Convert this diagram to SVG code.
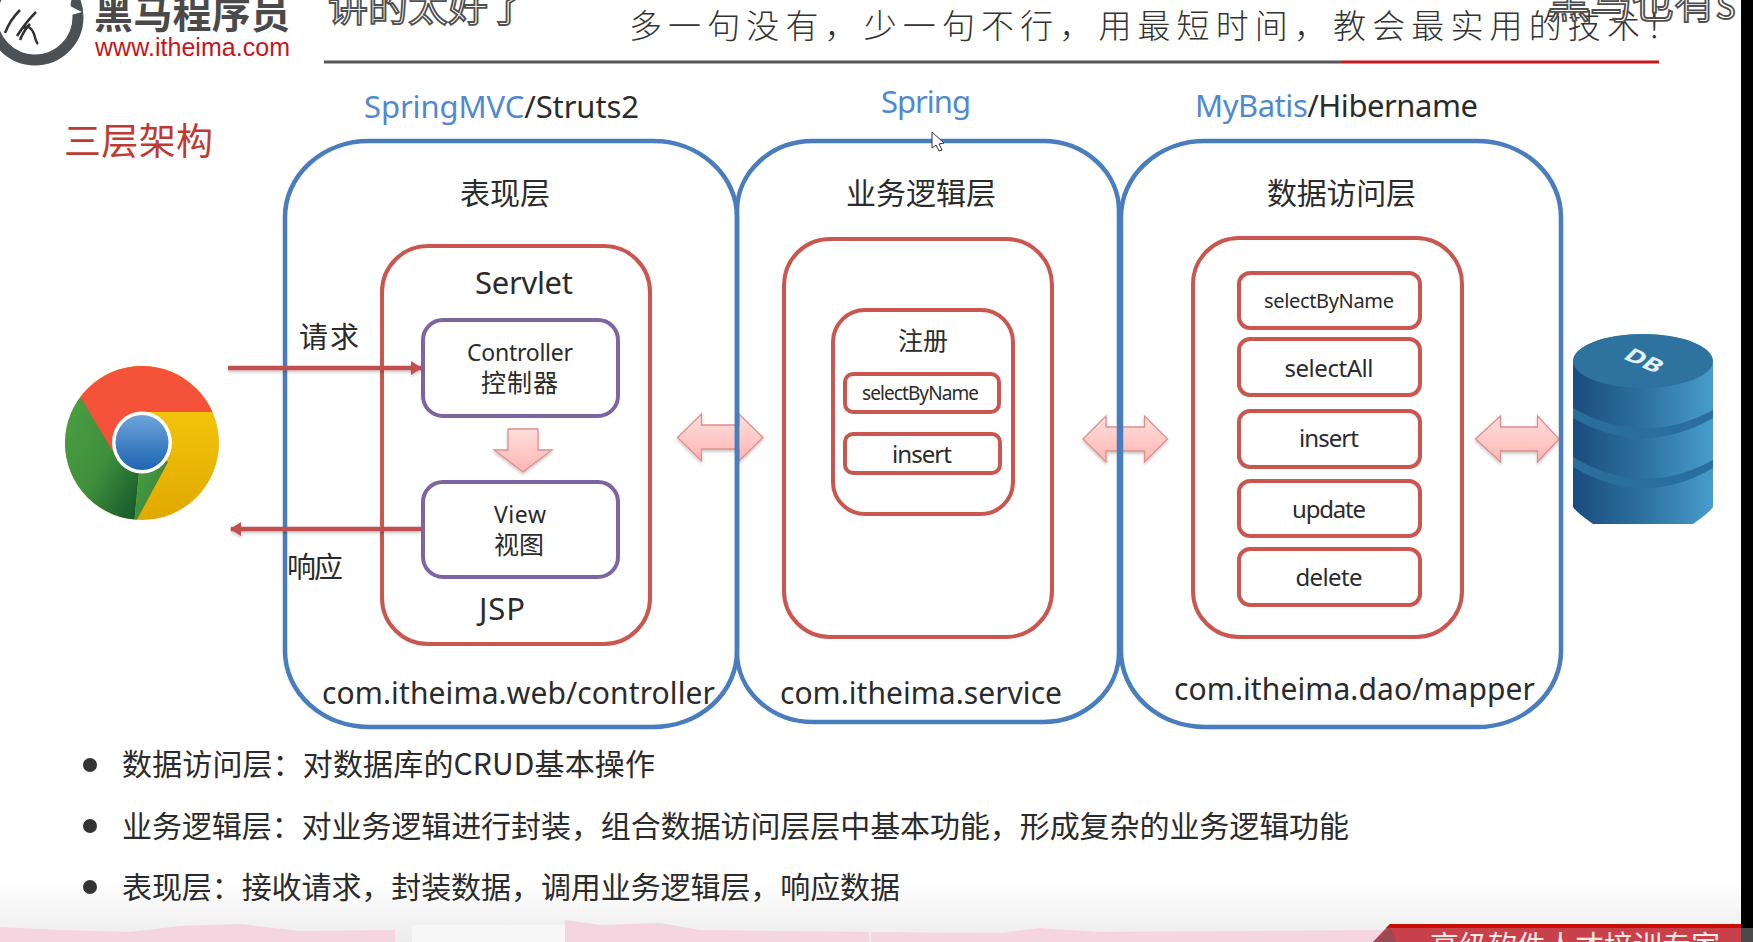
<svg xmlns="http://www.w3.org/2000/svg" width="1753" height="942" viewBox="0 0 1753 942">
<style>
text{font-family:"Noto Sans","Noto Sans CJK SC",sans-serif;fill:#2b2b2b}
.cn{font-family:"Noto Sans CJK SC","Noto Sans",sans-serif}
.tier{fill:#fff;fill-opacity:0;stroke:#4a7dbd;stroke-width:4.5}
.red{fill:#fff;stroke:#c9574f;stroke-width:4}
.pur{fill:#fff;stroke:#7d65a4;stroke-width:4}
.arrow{fill:url(#pink);stroke:#dc8f8b;stroke-width:1.3;filter:url(#sh)}
.link{stroke:#c1504d;stroke-width:4.5;fill:none;filter:url(#shl)}
.over{fill:#fff;stroke:#4f4f4f;stroke-width:1.8}
</style>
<defs>
<linearGradient id="pink" x1="0" y1="0" x2="0" y2="1"><stop offset="0" stop-color="#ffdedd"/><stop offset="1" stop-color="#fdb6b3"/></linearGradient>
<linearGradient id="bg" x1="0" y1="0" x2="0" y2="1"><stop offset="0" stop-color="#fff"/><stop offset="1" stop-color="#ececec"/></linearGradient>
<linearGradient id="cyl" x1="0" y1="0" x2="1" y2="0"><stop offset="0" stop-color="#1a4c7e"/><stop offset=".5" stop-color="#2d71a0"/><stop offset="1" stop-color="#479ccb"/></linearGradient>
<linearGradient id="cg" x1="0" y1="0" x2="1" y2="1"><stop offset="0" stop-color="#4da343"/><stop offset=".55" stop-color="#3f8f3d"/><stop offset="1" stop-color="#0c4f28"/></linearGradient>
<linearGradient id="cy" x1="0" y1="0" x2="0" y2="1"><stop offset="0" stop-color="#fbcf10"/><stop offset="1" stop-color="#dfa800"/></linearGradient>
<linearGradient id="cb" x1="0" y1="0" x2="0" y2="1"><stop offset="0" stop-color="#6fa3d8"/><stop offset="1" stop-color="#1c66b4"/></linearGradient>
<filter id="sh" x="-20%" y="-60%" width="140%" height="220%"><feDropShadow dx="0" dy="2" stdDeviation="1.5" flood-color="#000" flood-opacity=".22"/></filter>
<filter id="shl" filterUnits="userSpaceOnUse" x="200" y="340" width="250" height="210"><feDropShadow dx="0" dy="2" stdDeviation="1.5" flood-color="#000" flood-opacity=".22"/></filter>
<marker id="ah" markerUnits="userSpaceOnUse" markerWidth="12" markerHeight="16" refX="10" refY="7" orient="auto-start-reverse"><path d="M0 0L11 7L0 14Z" fill="#c1504d"/></marker>
<clipPath id="chromeClip"><circle cx="142" cy="443" r="77"/></clipPath>
<clipPath id="cylClip"><path d="M1573 361A70 27 0 0 1 1713 361V507Q1710 512 1693 524H1593Q1576 512 1573 507Z"/></clipPath>
</defs>

<rect id="background" width="1753" height="942" fill="#fff"/>
<rect y="880" width="1741" height="62" fill="url(#bg)"/>
<g id="footer">
<path d="M0 927L60 930L130 932L180 926L240 924L300 931L395 930V942H0Z" fill="#f5d5df"/>
<rect x="412" y="925" width="153" height="17" fill="#f7f7f7"/>
<path d="M565 920L600 925L660 923L700 930L869 932V942H565Z" fill="#f5d5df"/>
<path d="M871 932L1000 933L1040 928L1100 932L1390 930V942H871Z" fill="#f5d5df"/>
<path d="M1373 942L1390 924H1741V942Z" fill="#c8404a"/>
<path d="M1390 924H1741V928H1386Z" fill="#c70f05"/>
<path d="M1373 942L1390 927L1397 942Z" fill="#9a4a55"/>
<text x="1430" y="957" font-size="29" class="cn" style="fill:#fbe9e6" textLength="290">高级软件人才培训专家</text>
<rect x="1741" y="928" width="12" height="14" fill="#4a4a4a"/>
</g>

<g id="logo">
<circle cx="35" cy="17" r="43" fill="none" stroke="#4c5156" stroke-width="11"/>
<path d="M5 33Q10 20 20 10M36 12Q26 22 17 36M23 28Q30 24 34 34Q36 42 38 44M30 24Q24 30 20 40" fill="none" stroke="#333" stroke-width="2.500"/>
<path d="M48 -2L66 0L72 -2L70 6L82 12L68 16L64 24L54 20L46 10Z" fill="#fff"/>
<text x="94" y="28" font-size="39" font-weight="700" class="cn" style="fill:#4a4a4a" textLength="196">黑马程序员</text>
<text x="95" y="56" font-size="25" style="font-family:'Liberation Sans',sans-serif;fill:#c4161c" textLength="195">www.itheima.com</text>
</g>

<g id="header">
<text class="over cn" x="328" y="21" font-size="40" textLength="200">讲的太好了</text>
<text x="629" y="38" font-size="33" class="cn" font-weight="300" style="fill:#333" textLength="1050">多一句没有，少一句不行，用最短时间，教会最实用的技术！</text>
<text class="over cn" x="1548" y="18" font-size="42">黑马也有s</text>
<rect x="324" y="60.500" width="1017" height="3" fill="#555"/>
<rect x="1341" y="60.500" width="318" height="3" fill="#c8161d"/>
</g>

<text x="64" y="155" font-size="37" class="cn" style="fill:#be3b31" textLength="149" id="title">三层架构</text>

<g id="frameworks" font-size="31">
<text x="364" y="118" textLength="275"><tspan style="fill:#5089cf">SpringMVC</tspan>/Struts2</text>
<text x="881" y="113" textLength="90" style="fill:#5089cf">Spring</text>
<text x="1195" y="117" textLength="283"><tspan style="fill:#5089cf">MyBatis</tspan>/Hibername</text>
</g>

<g id="connectors">
<path class="arrow" d="M677.500 437.500L701.500 414V425H739V414L763 437.500L739 461V449H701.500V461Z"/>
<path class="arrow" d="M1083 439L1106 416V427H1144.500V416L1167.500 439L1144.500 462V451H1106V462Z"/>
<path class="arrow" d="M1475.500 439L1500.500 416V427H1537.500V416L1559 439L1537.500 462V451H1500.500V462Z"/>
</g>

<g id="tier-presentation">
<rect class="tier" x="285" y="141" width="452" height="586" rx="84" ry="76"/>
<text x="460" y="204" font-size="30" class="cn" textLength="90">表现层</text>
<text x="322" y="704" font-size="30" textLength="393">com.itheima.web/controller</text>
</g>
<g id="tier-service">
<rect class="tier" x="737" y="141" width="382" height="581" rx="76" ry="70"/>
<text x="846" y="204" font-size="30" class="cn" textLength="150">业务逻辑层</text>
<text x="780" y="704" font-size="30" textLength="282">com.itheima.service</text>
</g>
<g id="tier-dao">
<rect class="tier" x="1121" y="141" width="440" height="586" rx="84" ry="76"/>
<text x="1267" y="204" font-size="30" class="cn" textLength="149">数据访问层</text>
<text x="1174" y="700" font-size="30" textLength="361">com.itheima.dao/mapper</text>
</g>

<g id="servlet">
<rect class="red" x="382" y="246" width="268" height="398" rx="46" ry="46"/>
<text x="475" y="294" font-size="31" textLength="98">Servlet</text>
<text x="479" y="620" font-size="31" textLength="46">JSP</text>
</g>
<g id="controller">
<rect class="pur" x="423" y="320" width="195" height="96" rx="20"/>
<text x="467" y="361" font-size="23" textLength="106">Controller</text>
<text x="481" y="392" font-size="25" class="cn" textLength="77">控制器</text>
</g>
<g id="view">
<rect class="pur" x="423" y="482" width="195" height="95" rx="20"/>
<text x="494" y="523" font-size="23" textLength="52">View</text>
<text x="494" y="554" font-size="25" class="cn" textLength="50">视图</text>
</g>
<g id="flow">
<path class="link" d="M228 368H421" marker-end="url(#ah)"/>
<path class="link" d="M421 529H231" marker-end="url(#ah)"/>
<text x="299" y="348" font-size="29" class="cn" textLength="60">请求</text>
<text x="287" y="578" font-size="29" class="cn" textLength="56">响应</text>
<path class="arrow" d="M508 429H538V450H552L523 472L494 450H508Z"/>
</g>

<g id="service-box"><rect class="red" x="784" y="239" width="268" height="398" rx="46"/></g>
<g id="register">
<rect class="red" x="833" y="310" width="180" height="204" rx="32"/>
<text x="898" y="350" font-size="25" class="cn" textLength="50">注册</text>
</g>
<g id="svc-select"><rect class="red" x="845" y="374" width="154" height="38" rx="8"/><text x="862" y="400" font-size="19" textLength="117">selectByName</text></g>
<g id="svc-insert"><rect class="red" x="845" y="434" width="155" height="39" rx="8"/><text x="892" y="463" font-size="24" textLength="60">insert</text></g>

<g id="dao-box"><rect class="red" x="1193" y="238" width="269" height="399" rx="46"/></g>
<g id="dao-select"><rect class="red" x="1239" y="273" width="181" height="55" rx="11"/><text x="1264" y="308" font-size="20" textLength="130">selectByName</text></g>
<g id="dao-selectall"><rect class="red" x="1239" y="339" width="181" height="56" rx="11"/><text x="1284.500" y="377" font-size="24" textLength="89">selectAll</text></g>
<g id="dao-insert"><rect class="red" x="1239" y="411" width="181" height="56" rx="11"/><text x="1299" y="447" font-size="24" textLength="60">insert</text></g>
<g id="dao-update"><rect class="red" x="1239" y="481" width="181" height="55" rx="11"/><text x="1292" y="518" font-size="24" textLength="74">update</text></g>
<g id="dao-delete"><rect class="red" x="1239" y="549" width="181" height="56" rx="11"/><text x="1295.500" y="586" font-size="24" textLength="67">delete</text></g>

<g id="browser" clip-path="url(#chromeClip)">
<rect x="60" y="360" width="165" height="165" fill="url(#cy)"/>
<path d="M60 380L142 442L134 525H60Z" fill="url(#cg)"/>
<path d="M134 525L142 442L168 462Z" fill="url(#cg)"/>
<path d="M60 360H225V412H142L112 450L81 398Z" fill="#f5523a"/>
</g>
<g id="browser-eye"><ellipse cx="142" cy="442.500" rx="30" ry="31" fill="#fff"/><ellipse cx="142" cy="442.500" rx="26.500" ry="27.500" fill="url(#cb)"/></g>

<g id="database">
<g clip-path="url(#cylClip)">
<rect x="1573" y="334" width="140" height="192" fill="url(#cyl)"/>
<path d="M1573 408Q1643 448 1713 410V418Q1643 458 1573 418Z" fill="#2a6e9e"/>
<path d="M1573 457Q1643 499 1713 460V468Q1643 509 1573 467Z" fill="#2a6e9e"/>
<ellipse cx="1643" cy="361" rx="70" ry="27" fill="#2e729f"/>
</g>
<text font-size="27" font-weight="700" transform="matrix(.9 .42 -.56 .56 1622 358)" style="fill:#e4eff7">DB</text>
</g>

<g id="notes" font-size="30">
<circle cx="90" cy="765" r="7" fill="#333"/><circle cx="90" cy="826" r="7" fill="#333"/><circle cx="90" cy="887" r="7" fill="#333"/>
<text x="122" y="775" class="cn" textLength="533">数据访问层：对数据库的CRUD基本操作</text>
<text x="122" y="837" class="cn" textLength="1227">业务逻辑层：对业务逻辑进行封装，组合数据访问层层中基本功能，形成复杂的业务逻辑功能</text>
<text x="122" y="898" class="cn" textLength="778">表现层：接收请求，封装数据，调用业务逻辑层，响应数据</text>
</g>

<path id="cursor" d="M932 132V148L936 145L939 151L942 150L939 144L944 143Z" fill="#fff" stroke="#333" stroke-width="1"/>
<rect id="edge" x="1741" width="12" height="928" fill="#000"/>
</svg>
